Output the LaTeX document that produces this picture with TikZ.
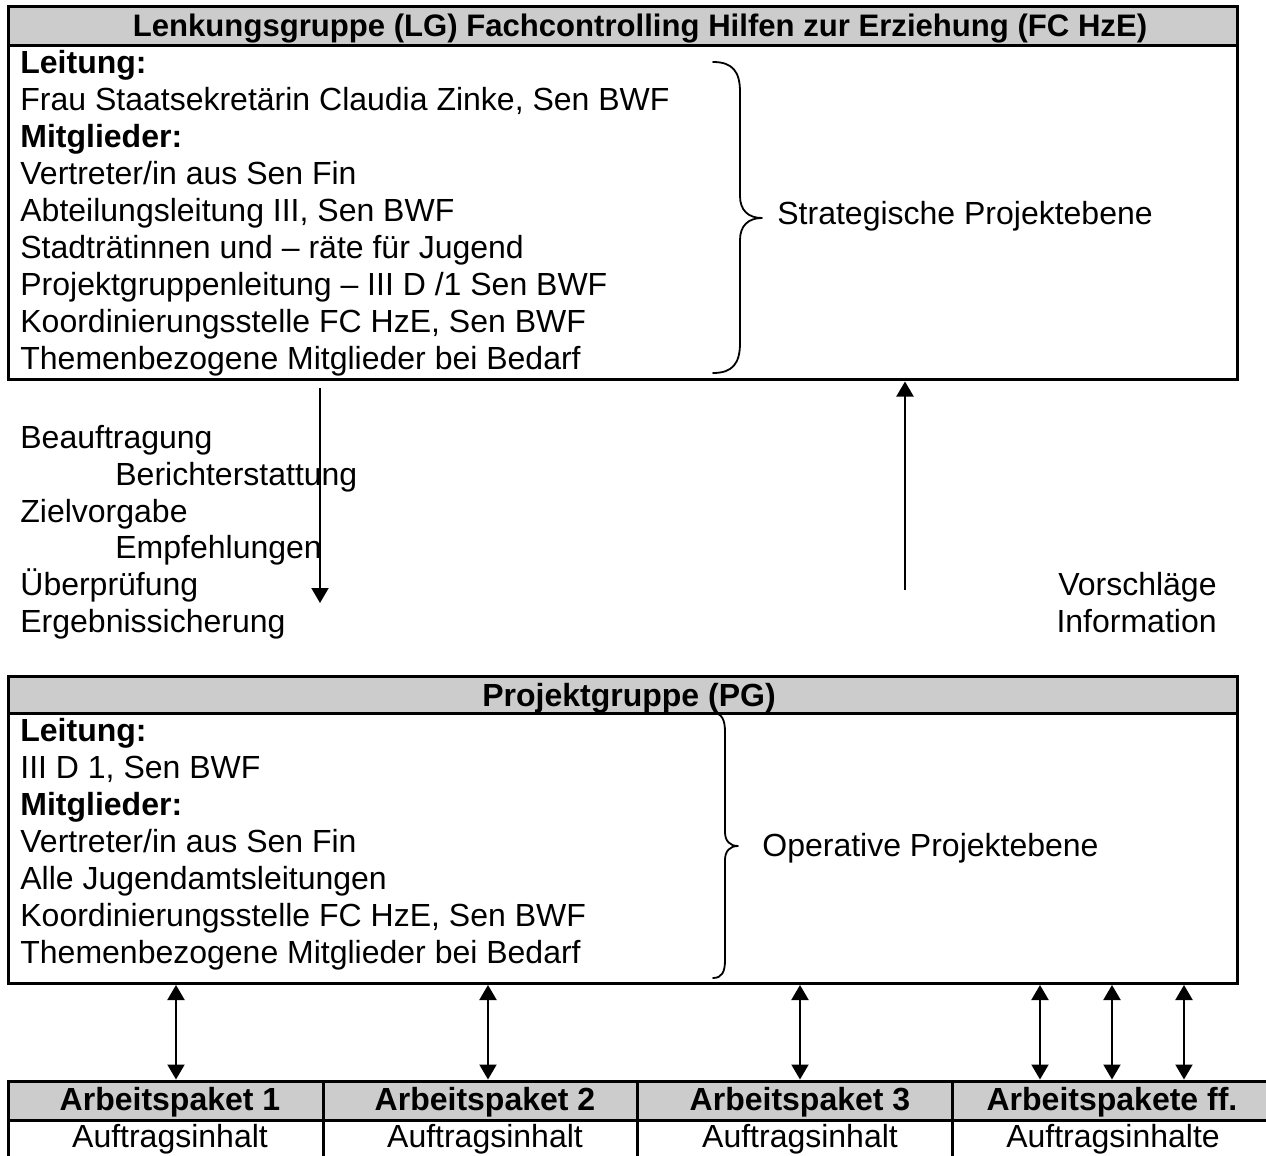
\documentclass[tikz,border=0pt]{standalone}
\usepackage{fontspec}
\setmainfont{Liberation Sans}
\usetikzlibrary{arrows.meta}
\definecolor{hdrgray}{RGB}{204,204,204}
\begin{document}
\begin{tikzpicture}[x=0.5pt,y=-0.5pt,
  txt/.style={font=\fontsize{16}{18.5}\selectfont, inner sep=0pt, anchor=base west},
  btxt/.style={txt, font=\fontsize{16}{18.5}\selectfont\bfseries},
  ctxt/.style={txt, anchor=base},
  cbtxt/.style={btxt, anchor=base},
  box/.style={draw, line width=1.5pt, inner sep=0pt, outer sep=0pt},
  hdrbox/.style={box, fill=hdrgray},
  cellbox/.style={box, minimum height=20pt},
  arr/.style={line width=1pt, -{Triangle[length=7.5pt,width=8.5pt]}},
  biarr/.style={line width=1pt, {Triangle[length=7.5pt,width=8.5pt]}-{Triangle[length=7.5pt,width=8.5pt]}},
  bracestyle/.style={line width=0.9pt, line cap=round, line join=round}
]
\useasboundingbox (0,0) rectangle (1266,1156);
\fill[white] (0,0) rectangle (1266,1156);

% ---------- Lenkungsgruppe box ----------
\node[box, minimum width=614.5pt, minimum height=186.5pt] (lg) at (622.5,193.5) {};
\node[hdrbox, minimum width=614.5pt, minimum height=19.5pt, anchor=north] (lgh) at (lg.north) {};
\node[cbtxt, font=\fontsize{15.55}{18.5}\selectfont\bfseries] (lgtitle) at (640,37) {Lenkungsgruppe (LG) Fachcontrolling Hilfen zur Erziehung (FC HzE)};

\node[btxt] (lg0) at (20,74)  {Leitung:};
\node[txt]  (lg1) at (20,111) {Frau Staatsekretärin Claudia Zinke, Sen BWF};
\node[btxt] (lg2) at (20,148) {Mitglieder:};
\node[txt]  (lg3) at (20,185) {Vertreter/in aus Sen Fin};
\node[txt]  (lg4) at (20,222) {Abteilungsleitung III, Sen BWF};
\node[txt]  (lg5) at (20,259) {Stadträtinnen und – räte für Jugend};
\node[txt]  (lg6) at (20,296) {Projektgruppenleitung – III D /1 Sen BWF};
\node[txt]  (lg7) at (20,333) {Koordinierungsstelle FC HzE, Sen BWF};
\node[txt]  (lg8) at (20,370) {Themenbezogene Mitglieder bei Bedarf};

\draw[bracestyle] (713,62) .. controls (733,62) and (740,72) .. (740,92)
  -- (740,196) .. controls (740,210) and (748,218) .. (762,218)
  .. controls (748,218) and (740,226) .. (740,240)
  -- (740,343) .. controls (740,363) and (733,373) .. (713,373);
\node[txt] (strat) at (777,225) {Strategische Projektebene};

% ---------- middle labels and arrows ----------
\node[txt] (m1) at (20,448)  {Beauftragung};
\node[txt] (m2) at (115,485) {Berichterstattung};
\node[txt] (m3) at (20,522)  {Zielvorgabe};
\node[txt] (m4) at (115,558) {Empfehlungen};
\node[txt] (m5) at (20,595)  {Überprüfung};
\node[txt] (m6) at (20,632)  {Ergebnissicherung};
\node[txt, anchor=base east] (r1) at (1217,595) {Vorschläge};
\node[txt, anchor=base east] (r2) at (1217,632) {Information};

\coordinate (downstart) at (320,388);
\coordinate (downend) at (320,603);
\draw[arr] (downstart) -- (downend);

\coordinate (upstart) at (905,590);
\coordinate (upx) at (905,0);
\draw[arr] (upstart) -- ([yshift=-0.75pt]lg.south -| upx);

% ---------- Projektgruppe box ----------
\node[box, minimum width=614.5pt, minimum height=153.5pt] (pg) at (622.5,829.5) {};
\node[hdrbox, minimum width=614.5pt, minimum height=18.5pt, anchor=north] (pgh) at (pg.north) {};
\node[cbtxt] (pgtitle) at (629,706) {Projektgruppe (PG)};

\node[btxt] (pg0) at (20,741) {Leitung:};
\node[txt]  (pg1) at (20,778) {III D 1, Sen BWF};
\node[btxt] (pg2) at (20,815) {Mitglieder:};
\node[txt]  (pg3) at (20,852) {Vertreter/in aus Sen Fin};
\node[txt]  (pg4) at (20,889) {Alle Jugendamtsleitungen};
\node[txt]  (pg5) at (20,926) {Koordinierungsstelle FC HzE, Sen BWF};
\node[txt]  (pg6) at (20,963) {Themenbezogene Mitglieder bei Bedarf};

\draw[bracestyle] (713,713) .. controls (722,713) and (725,720) .. (725,732)
  -- (725,832) .. controls (725,841) and (730,846) .. (738,846)
  .. controls (730,846) and (725,851) .. (725,860)
  -- (725,960) .. controls (725,972) and (722,978) .. (713,978);
\node[txt] (oper) at (762,856) {Operative Projektebene};

% ---------- Arbeitspakete table ----------
\node[hdrbox, minimum width=157.5pt, minimum height=19.5pt] (h1) at (165.5,1100.5) {};
\node[hdrbox, minimum width=157pt,   minimum height=19.5pt] (h2) at (480,1100.5) {};
\node[hdrbox, minimum width=157.5pt, minimum height=19.5pt] (h3) at (794.5,1100.5) {};
\node[hdrbox, minimum width=159pt,   minimum height=19.5pt] (h4) at (1111,1100.5) {};
\node[cellbox, minimum width=157.5pt, anchor=north] (c1) at (h1.south) {};
\node[cellbox, minimum width=157pt,   anchor=north] (c2) at (h2.south) {};
\node[cellbox, minimum width=157.5pt, anchor=north] (c3) at (h3.south) {};
\node[cellbox, minimum width=159pt,   anchor=north] (c4) at (h4.south) {};

\node[cbtxt] (h1t) at (170,1110)  {Arbeitspaket 1};
\node[cbtxt] (h2t) at (485,1110)  {Arbeitspaket 2};
\node[cbtxt] (h3t) at (800,1110)  {Arbeitspaket 3};
\node[cbtxt] (h4t) at (1112,1110) {Arbeitspakete ff.};
\node[ctxt] (c1t) at (170,1147)  {Auftragsinhalt};
\node[ctxt] (c2t) at (485,1147)  {Auftragsinhalt};
\node[ctxt] (c3t) at (800,1147)  {Auftragsinhalt};
\node[ctxt] (c4t) at (1113,1147) {Auftragsinhalte};

% ---------- bidirectional arrows ----------
\coordinate (ax1) at (176,0);
\coordinate (ax2) at (488,0);
\coordinate (ax3) at (800,0);
\coordinate (ax4) at (1040,0);
\coordinate (ax5) at (1112,0);
\coordinate (ax6) at (1184,0);
\draw[biarr] ([yshift=-1pt]pg.south -| ax1) -- ([yshift=0.75pt]h1.north -| ax1);
\draw[biarr] ([yshift=-1pt]pg.south -| ax2) -- ([yshift=0.75pt]h2.north -| ax2);
\draw[biarr] ([yshift=-1pt]pg.south -| ax3) -- ([yshift=0.75pt]h3.north -| ax3);
\draw[biarr] ([yshift=-1pt]pg.south -| ax4) -- ([yshift=0.75pt]h4.north -| ax4);
\draw[biarr] ([yshift=-1pt]pg.south -| ax5) -- ([yshift=0.75pt]h4.north -| ax5);
\draw[biarr] ([yshift=-1pt]pg.south -| ax6) -- ([yshift=0.75pt]h4.north -| ax6);
\end{tikzpicture}
\end{document}
